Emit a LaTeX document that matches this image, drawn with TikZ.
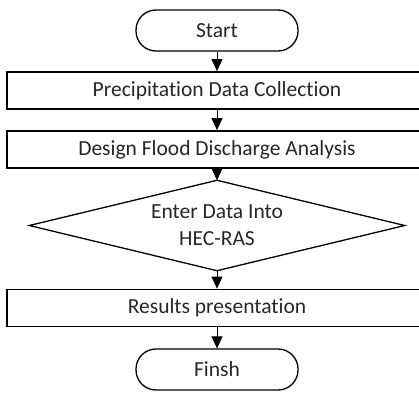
\documentclass[tikz,border=0pt]{standalone}
\usepackage{fontspec}
\setmainfont{Carlito}[Ligatures=NoCommon]
\usetikzlibrary{arrows.meta}
\begin{document}
\begin{tikzpicture}[x=1pt,y=-1pt,
  font=\fontsize{21.5}{27}\selectfont,
  every node/.append style={text=black!85},
  term/.style={draw,line width=1.3pt,rounded corners=20pt,minimum width=162pt,minimum height=41pt,inner sep=0pt},
  proc/.style={draw,line width=1.8pt,minimum width=420pt,minimum height=37pt,inner sep=0pt},
  dec/.style={minimum width=375pt,minimum height=90pt,inner sep=0pt,align=center},
  decline/.style={line width=1.3pt,line join=miter},
  arr/.style={line width=0.8pt,-{Triangle[length=12pt,width=11pt]}}]
\clip (0,0) rectangle (419,393);
\node[term] (start) at (217,30.5) {Start};
\node[proc] (p1) at (217,90.5) {Precipitation Data Collection};
\node[proc] (p2) at (217,149.5) {Design Flood Discharge Analysis};
\node[dec] (d) at (217,225.5) {Enter Data Into\\HEC-RAS};
\draw[decline] (d.north) -- (d.east) -- (d.south) -- (d.west) -- cycle;
\node[proc] (p3) at (217,308) {Results presentation};
\node[term] (fin) at (217,369.5) {Finsh};
\draw[arr] (start) -- (p1);
\draw[arr] (p1) -- (p2);
\draw[arr] (p2) -- (d.north);
\draw[arr] (d.south) -- (p3);
\draw[arr] (p3) -- (fin);
\end{tikzpicture}
\end{document}
